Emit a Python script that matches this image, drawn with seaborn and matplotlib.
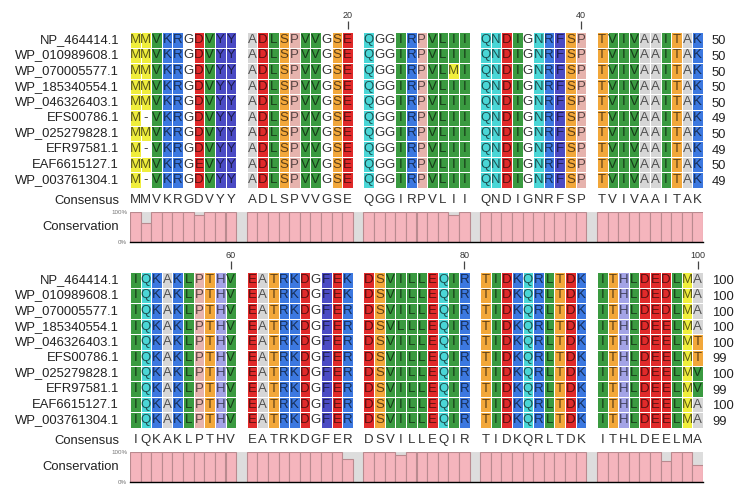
import numpy as np
import pandas as pd
import matplotlib
matplotlib.use("Agg")
import matplotlib.pyplot as plt
from matplotlib.colors import ListedColormap, to_rgb
import seaborn as sns

# sequence names
names = ["NP_464414.1", "WP_010989608.1", "WP_070005577.1", "WP_185340554.1",
         "WP_046326403.1", "EFS00786.1", "WP_025279828.1", "EFR97581.1",
         "EAF6615127.1", "WP_003761304.1"]

# alignment, positions 1-50 (space = gap between groups of ten)
block1 = [
    "MMVKRGDVYY ADLSPVVGSE QGGIRPVLII QNDIGNRFSP TVIVAAITAK",
    "MMVKRGDVYY ADLSPVVGSE QGGIRPVLII QNDIGNRFSP TVIVAAITAK",
    "MMVKRGDVYY ADLSPVVGSE QGGIRPVLMI QNDIGNRFSP TVIVAAITAK",
    "MMVKRGDVYY ADLSPVVGSE QGGIRPVLII QNDIGNRFSP TVIVAAITAK",
    "MMVKRGDVYY ADLSPVVGSE QGGIRPVLII QNDIGNRFSP TVIVAAITAK",
    "M-VKRGDVYY ADLSPVVGSE QGGIRPVLII QNDIGNRFSP TVIVAAITAK",
    "MMVKRGDVYY ADLSPVVGSE QGGIRPVLII QNDIGNRFSP TVIVAAITAK",
    "M-VKRGDVYY ADLSPVVGSE QGGIRPVLII QNDIGNRFSP TVIVAAITAK",
    "MMVKRGEVYY ADLSPVVGSE QGGIRPVLII QNDIGNRFSP TVIVAAITAK",
    "M-VKRGDVYY ADLSPVVGSE QGGIRPVLII QNDIGNRFSP TVIVAAITAK",
]
# alignment, positions 51-100
block2 = [
    "IQKAKLPTHV EATRKDGFEK DSVILLEQIR TIDKQRLTDK ITHLDEDLMA",
    "IQKAKLPTHV EATRKDGFEK DSVILLEQIR TIDKQRLTDK ITHLDEDLMA",
    "IQKAKLPTHV EATRKDGFER DSVILLEQIR TIDKQRLTDK ITHLDEDLMA",
    "IQKAKLPTHV EATRKDGFER DSVLLLEQIR TIDKQRLTDK ITHLDEELMA",
    "IQKAKLPTHV EATRKDGFER DSVILLEQIR TIDKQRLTDK ITHLDEELMT",
    "IQKAKLPTHV EATRKDGFER DSVILLEQIR TIDKQRLTDK ITHLDEELMT",
    "IQKAKLPTHV EATRKDGFER DSVILLEQIR TIDKQRLTDK ITHLDEELMV",
    "IQKAKLPTHV EATRKDGFER DSVILLEQIR TIDKQRLTDK ITHLDEELMV",
    "IQKAKLPTHV EATRKDGFER DSVILLEQIR TIDKQRLTDK ITHLDEELMA",
    "IQKAKLPTHV EATRKDGFER DSVILLEQIR TIDKQRLTDK ITHLDEELMA",
]
ends1 = [50, 50, 50, 50, 50, 49, 50, 49, 50, 49]
ends2 = [100, 100, 100, 100, 100, 99, 100, 99, 100, 99]

consensus1 = "MMVKRGDVYY ADLSPVVGSE QGGIRPVLII QNDIGNRFSP TVIVAAITAK"
consensus2 = "IQKAKLPTHV EATRKDGFER DSVILLEQIR TIDKQRLTDK ITHLDEELMA"

# conservation (%) per residue column
conservation1 = [100, 63, 100, 100, 100, 100, 90, 100, 100, 100,
                 100, 100, 100, 100, 100, 100, 100, 100, 100, 100,
                 100, 100, 100, 100, 100, 100, 100, 100, 90, 100,
                 100, 100, 100, 100, 100, 100, 100, 100, 100, 100,
                 100, 100, 100, 100, 100, 100, 100, 100, 100, 100]
conservation2 = [100, 100, 100, 100, 100, 100, 100, 100, 100, 100,
                 100, 100, 100, 100, 100, 100, 100, 100, 100, 77,
                 100, 100, 100, 89, 100, 100, 100, 100, 100, 100,
                 100, 100, 100, 100, 100, 100, 100, 100, 100, 100,
                 100, 100, 100, 100, 100, 100, 70, 100, 100, 57]

ruler1 = [20, 40]
ruler2 = [60, 80, 100]

# residue colouring
residue_colors = {
    "-": "#ffffff", "G": "#ffffff",
    "M": "#f0ee3c",
    "V": "#3a9a40", "I": "#3a9a40", "L": "#3a9a40",
    "K": "#3c78e0", "R": "#3c78e0",
    "D": "#e02a2a", "E": "#e02a2a",
    "Y": "#4b4bc4", "F": "#4b4bc4",
    "H": "#a3a3e6",
    "S": "#f2a73a", "T": "#f2a73a",
    "Q": "#4ad6d6", "N": "#4ad6d6",
    "A": "#d6d6d6",
    "P": "#e6b3ad",
}
residues = list(residue_colors)
palette = [residue_colors[r] for r in residues]
cmap = ListedColormap(palette)

BAR_COLOR = "#f5b5bd"
BAR_EDGE = "#b98a8f"

plt.rcParams["font.family"] = ["Liberation Sans", "DejaVu Sans"]

W, H = 743, 491
LEFT, RIGHT = 130, 703


def rect(x0, y0, x1, y1):
    return [x0 / W, 1 - y1 / H, (x1 - x0) / W, (y1 - y0) / H]


def text_color(ch):
    c = residue_colors.get(ch, "#ffffff")
    if c == "#ffffff":
        return "#333333"
    return tuple(np.array(to_rgb(c)) * 0.38)


def draw_block(fig, rows, ends, consensus, conservation, ruler, top):
    letters = np.array([list(r) for r in rows])
    ncol = letters.shape[1]
    gap = np.array([c == " " for c in consensus])
    codes = np.array([[residues.index(ch) if ch in residues else 0 for ch in r] for r in rows])
    mask = np.tile(gap, (len(rows), 1))
    width_px = RIGHT - LEFT

    ax = fig.add_axes(rect(LEFT, top, RIGHT, top + 156))
    sns.heatmap(codes, mask=mask, cmap=cmap, vmin=-0.5, vmax=len(palette) - 0.5,
                cbar=False, annot=letters, fmt="", annot_kws={"fontsize": 9.5},
                linewidths=0.7, linecolor="white", xticklabels=False,
                yticklabels=names, ax=ax)
    for t in ax.texts:
        x, y = t.get_position()
        t.set_color(text_color(letters[int(y), int(x)]))

    ax.set_yticks(np.arange(len(rows)) + 0.5)
    ax.set_yticklabels(names, rotation=0, fontsize=9.4, color="#222222")
    ax.tick_params(axis="y", length=0, pad=8)

    # consensus row as bottom tick labels
    ax.set_xticks(np.arange(ncol) + 0.5)
    ax.set_xticklabels(list(consensus), rotation=0, fontsize=9.5, color="#333333")
    ax.tick_params(axis="x", length=0, pad=4)
    ax.text(-11 / width_px, -13 / 156, "Consensus", transform=ax.transAxes,
            ha="right", va="center", fontsize=9.4, color="#222222")

    # residue counts on the right
    axr = ax.twinx()
    axr.set_ylim(ax.get_ylim())
    axr.set_yticks(np.arange(len(rows)) + 0.5)
    axr.set_yticklabels([str(e) for e in ends], fontsize=9.4, color="#222222")
    axr.tick_params(axis="y", length=0, pad=6.5)
    for s in axr.spines.values():
        s.set_visible(False)

    # position ruler on top
    res_cols = [i for i in range(ncol) if not gap[i]]
    first = int(ruler[0] // 50) * 50 if ruler[0] > 50 else 0
    sec = ax.secondary_xaxis(1 + 3 / 156)
    sec.set_xticks([res_cols[p - 1 - first] + 0.5 for p in ruler])
    sec.set_xticklabels([str(p) for p in ruler])
    sec.tick_params(length=5.8, width=0.9, color="#444444", labelsize=6.5,
                    labelcolor="#333333", pad=1)
    for s in sec.spines.values():
        s.set_visible(False)

    # conservation track
    cons_df = pd.DataFrame({"col": res_cols, "value": conservation})
    axc = fig.add_axes(rect(LEFT, top + 180, RIGHT, top + 210))
    sns.barplot(data=cons_df, x="col", y="value", order=list(range(ncol)), width=1,
                color=BAR_COLOR, saturation=1, edgecolor=BAR_EDGE, linewidth=0.8,
                errorbar=None, ax=axc)
    axc.set_facecolor("#dddddd")
    axc.set_xlim(-0.5, ncol - 0.5)
    axc.set_ylim(0, 100)
    axc.set_xticks([])
    axc.set_xlabel("")
    axc.set_yticks([0, 100])
    axc.set_yticklabels(["0%", "100%"], fontsize=4.5, color="#777777")
    axc.tick_params(axis="y", length=0, pad=2)
    axc.set_ylabel("Conservation", rotation=0, ha="right", va="center",
                   fontsize=9.4, color="#222222")
    axc.yaxis.set_label_coords(-11 / width_px, 0.5)
    for side in ["left", "right", "top"]:
        axc.spines[side].set_visible(False)
    axc.spines["bottom"].set_color("black")
    axc.spines["bottom"].set_linewidth(1)


def main():
    fig = plt.figure(figsize=(7.43, 4.91), dpi=100)
    draw_block(fig, block1, ends1, consensus1, conservation1, ruler1, 32)
    draw_block(fig, block2, ends2, consensus2, conservation2, ruler2, 272)
    fig.savefig("out.png", dpi=100)


if __name__ == "__main__":
    main()
